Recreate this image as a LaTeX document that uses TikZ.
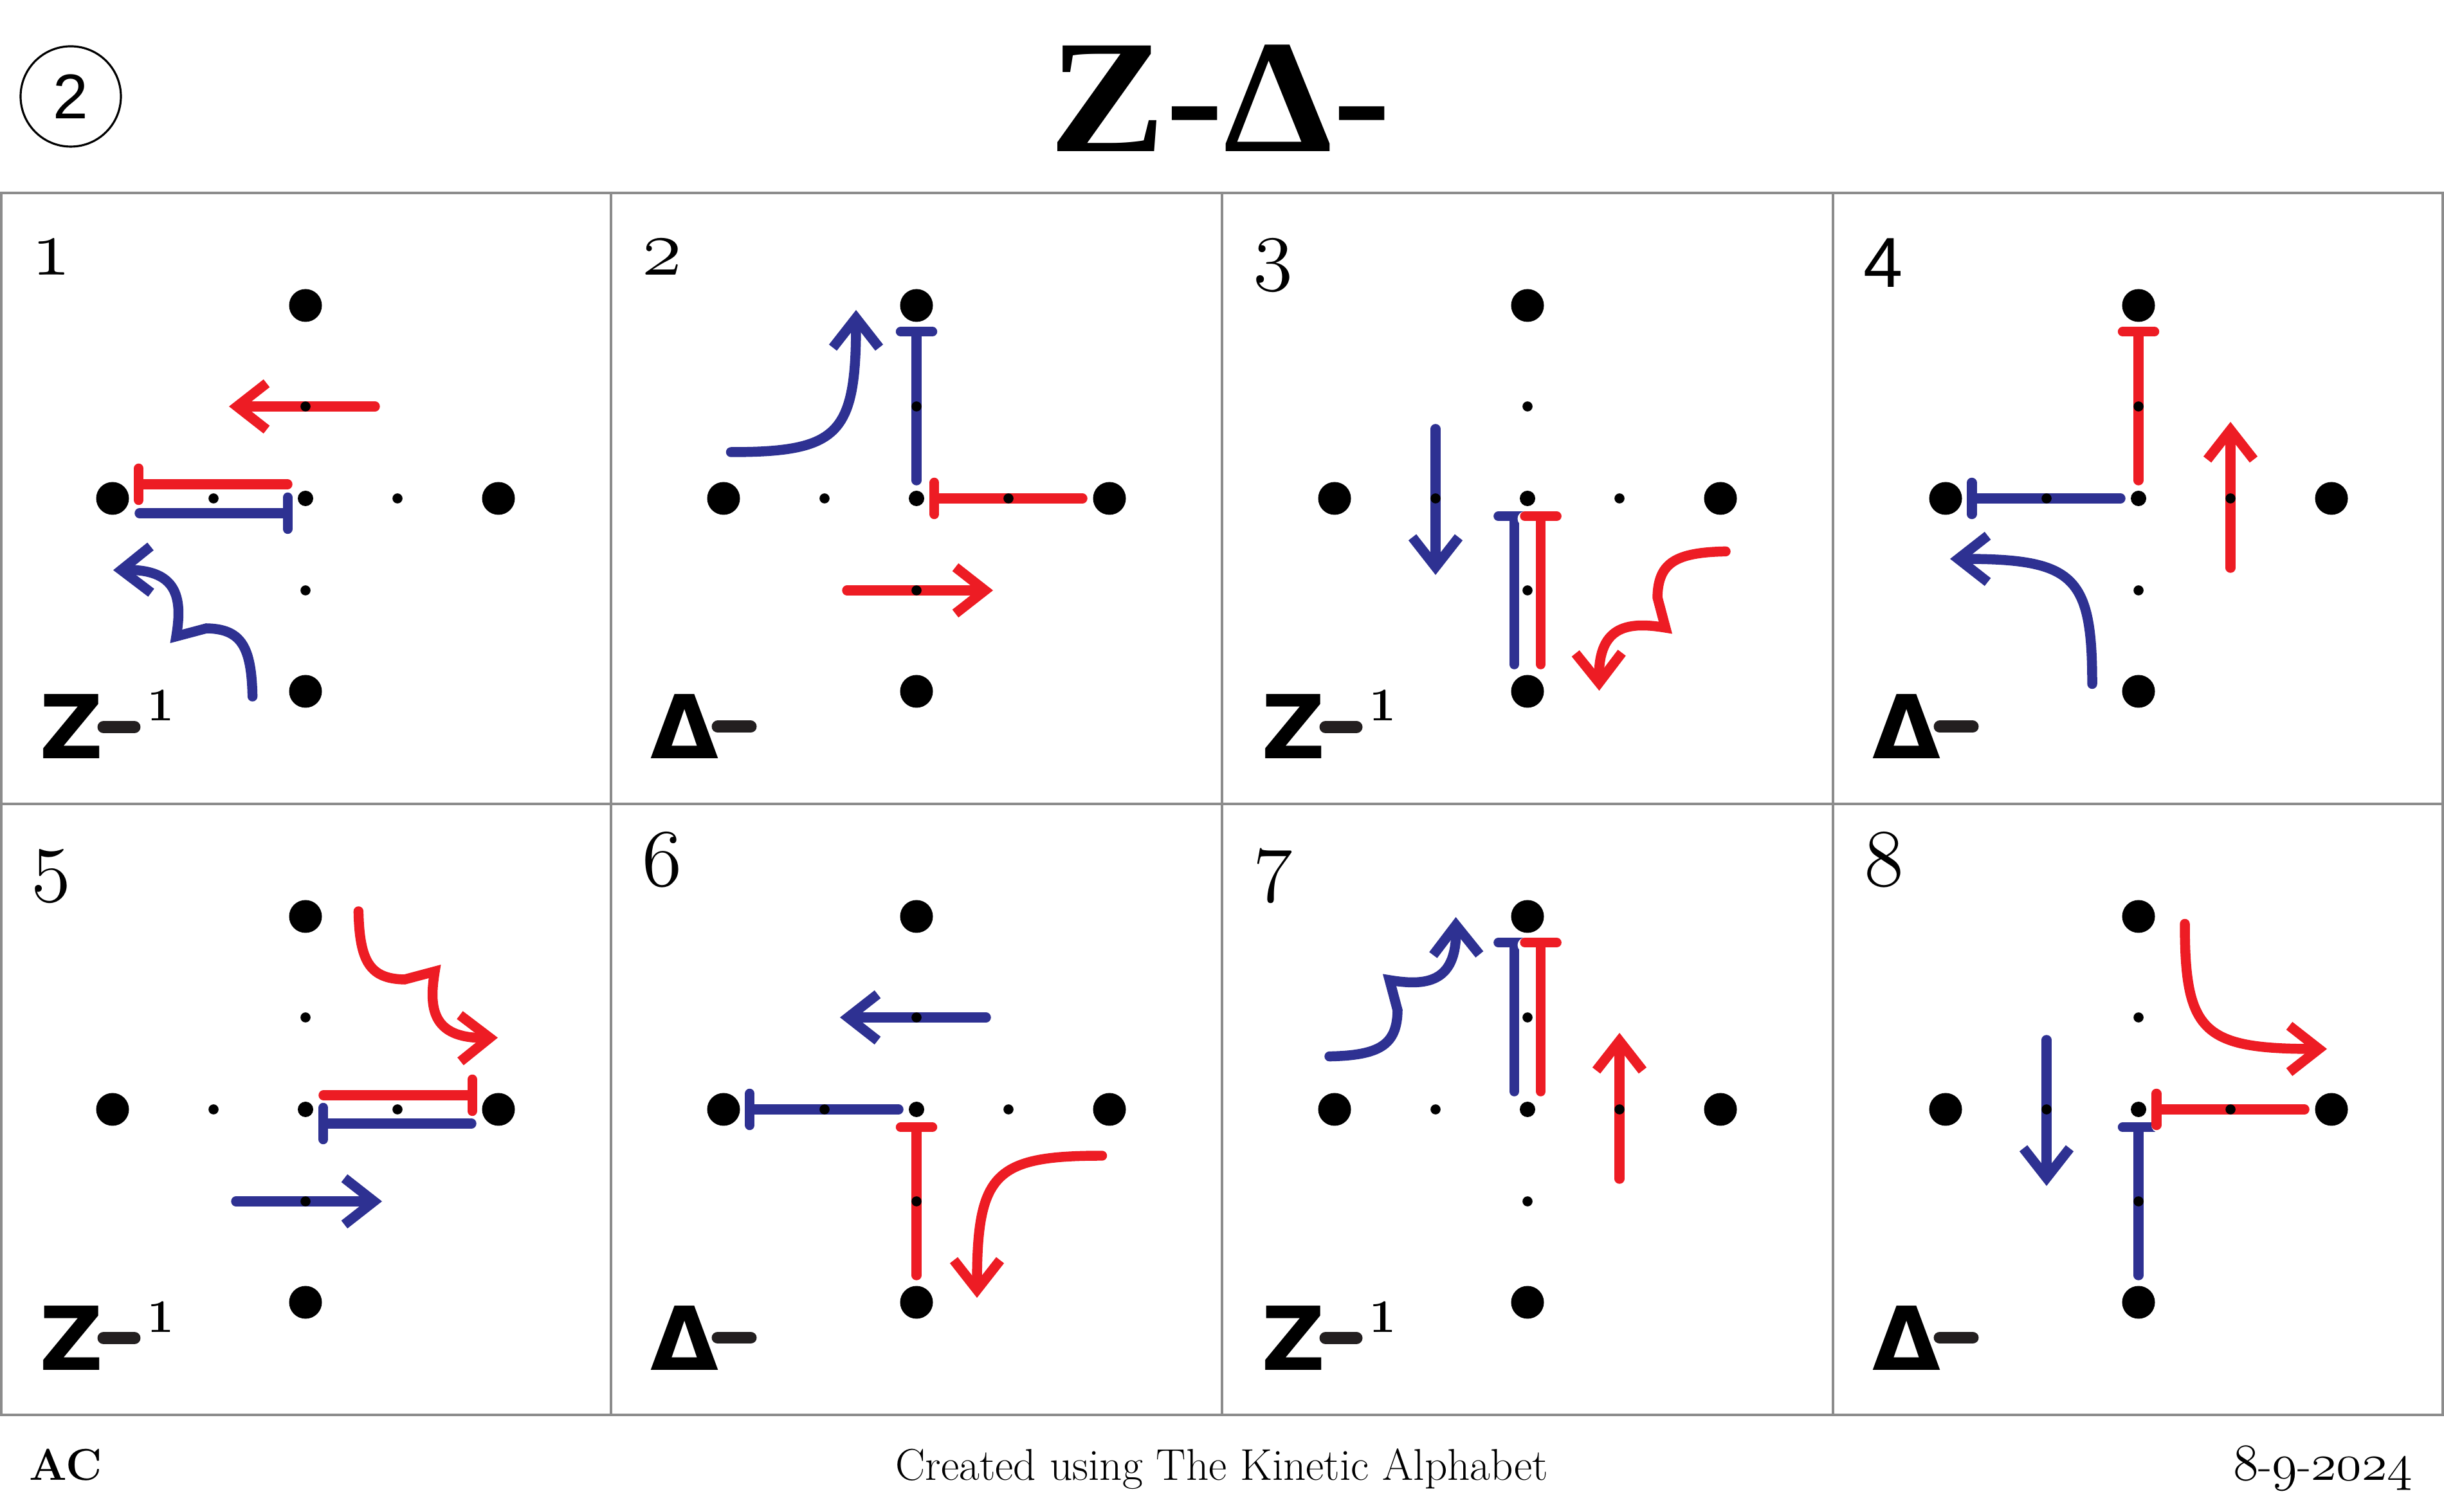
\RequirePackage{fix-cm}
\documentclass[tikz,border=0pt]{standalone}
\usepackage{fontspec}
\usetikzlibrary{arrows.meta}
\newfontfamily\glyphfont{DejaVu Sans}
\newfontfamily\headfont{Liberation Serif}
\newfontfamily\plainsans{Liberation Sans}
\definecolor{kared}{HTML}{ED1C24}
\definecolor{kablue}{HTML}{2E3192}
\definecolor{kaink}{HTML}{231F20}
% old style figures: {size}{digits}
\newcommand\osnum[2]{{\fontsize{#1}{#1}\usefont{OML}{cmm}{m}{it}#2}}

% movement marks, drawn round the centre of a panel
\newcommand\wiggle[1]{\draw[arr, #1, line join=miter]
  (-0.824,-3.08) .. controls (-0.84,-2.3) and (-1.0,-2.03) .. (-1.54,-2.02)
  -- (-2.01,-2.145) .. controls (-1.92,-1.6) and (-1.95,-1.1) .. (-2.99,-1.115);}
\newcommand\hook[1]{\draw[arr, #1]
  (-2.885,0.72) .. controls (-1.2,0.72) and (-0.94,1.0) .. (-0.94,2.93);}
\newcommand\kdots{%
  \fill (0,0) circle (0.12);
  \foreach \a in {0,90,180,270} {
    \fill (\a:3) circle (0.255);
    \fill (\a:1.43) circle (0.078);
  }}
\newcommand\zlbl[1]{%
  \node[glyph] (z#1) at (-4.14,-4.05) {Z};
  \draw[barsign] (-3.14,-3.555) -- (-2.66,-3.555);
  \node[supone] (e#1) at (-2.46,-3.46) {1};}
\newcommand\dlbl[1]{%
  \node[glyph] (d#1) at (-4.14,-4.05) {Δ};
  \draw[barsign] (-3.09,-3.55) -- (-2.58,-3.55);}

\begin{document}
\begin{tikzpicture}[
  mv/.style={line width=4.4pt, line cap=round},
  arr/.style={mv, -{Straight Barb[length=4.6mm, width=7.2mm]}},
  tee/.style={mv, -{Bar[width=4.9mm, round]}},
  halo/.style={preaction={draw=white, line width=6.6pt}},
  gridline/.style={draw=black!45, line width=1pt},
  glyph/.style={anchor=base west, inner sep=0pt,
                font=\glyphfont\bfseries\fontsize{39}{39}\selectfont},
  supone/.style={anchor=base west, inner sep=0pt,
                 font=\bfseries\fontsize{20.7}{21}\selectfont},
  barsign/.style={draw=kaink, line width=5.4pt, line cap=round},
  num/.style={anchor=base west, inner sep=0pt},
  foot/.style={inner sep=0pt, font=\fontsize{19.7}{20}\selectfont},
]
\useasboundingbox (0,0) rectangle (38,23.5);

% header
\node[draw, circle, line width=0.9pt, minimum size=15.6mm, inner sep=0pt,
  font=\plainsans\fontsize{28}{28}\selectfont] (badge) at (1.10,22.0) {2};
\node[anchor=base, inner sep=0pt, xscale=1.08,
  font=\headfont\bfseries\fontsize{71.4}{72}\selectfont] (title)
  at (18.97,21.14) {Z-Δ-};

% grid of panels
\draw[gridline] (0.02,1.5) rectangle (37.98,20.5);
\draw[gridline] (0.02,11) -- (37.98,11);
\foreach \x in {9.5,19,28.5}
  \draw[gridline] (\x,1.5) -- (\x,20.5);

% panel 1
\begin{scope}[shift={(4.75,15.75)}]
  \wiggle{kablue}
  \draw[tee, kablue] (-2.58,-0.23) -- (-0.2,-0.23);
  \draw[tee, kared, halo] (-0.28,0.22) -- (-2.67,0.22);
  \draw[arr, kared] (1.08,1.43) -- (-1.19,1.43);
  \kdots
  \node[num] (n1) at (-4.27,3.47) {\osnum{36}{1}};
  \zlbl{1}
\end{scope}

% panel 2
\begin{scope}[shift={(14.25,15.75)}]
  \hook{kablue}
  \draw[tee, kablue] (0,0.28) -- (0,2.67);
  \draw[tee, kared, halo] (2.58,0) -- (0.2,0);
  \draw[arr, kared] (-1.08,-1.43) -- (1.19,-1.43);
  \kdots
  \node[num] (n2) at (-4.27,3.47) {\osnum{36}{2}};
  \dlbl{2}
\end{scope}

% panel 3
\begin{scope}[shift={(23.75,15.75)}]
  \draw[arr, kablue] (-1.43,1.08) -- (-1.43,-1.19);
  \draw[tee, kablue] (-0.206,-2.58) -- (-0.206,-0.2);
  \draw[tee, kared, halo] (0.206,-2.58) -- (0.206,-0.2);
  \begin{scope}[rotate=90]
    \wiggle{kared}
  \end{scope}
  \kdots
  \node[num] (n3) at (-4.27,3.47) {\osnum{36}{3}};
  \zlbl{3}
\end{scope}

% panel 4
\begin{scope}[shift={(33.25,15.75)}]
  \begin{scope}[rotate=90]
    \hook{kablue}
  \end{scope}
  \draw[tee, kablue] (-0.28,0) -- (-2.67,0);
  \draw[tee, kared, halo] (0,0.28) -- (0,2.67);
  \draw[arr, kared] (1.43,-1.08) -- (1.43,1.19);
  \kdots
  \node[num, font=\plainsans\fontsize{31.3}{32}\selectfont] (n4)
    at (-4.28,3.28) {4};
  \dlbl{4}
\end{scope}

% panel 5
\begin{scope}[shift={(4.75,6.25)}]
  \draw[arr, kablue] (-1.08,-1.43) -- (1.19,-1.43);
  \draw[tee, kablue] (2.58,-0.22) -- (0.2,-0.22);
  \draw[tee, kared, halo] (0.28,0.22) -- (2.67,0.22);
  \begin{scope}[rotate=180]
    \wiggle{kared}
  \end{scope}
  \kdots
  \node[num] (n5) at (-4.27,3.47) {\osnum{36}{5}};
  \zlbl{5}
\end{scope}

% panel 6
\begin{scope}[shift={(14.25,6.25)}]
  \draw[arr, kablue] (1.08,1.43) -- (-1.19,1.43);
  \draw[tee, kablue] (-0.28,0) -- (-2.67,0);
  \draw[tee, kared, halo] (0,-2.58) -- (0,-0.2);
  \begin{scope}[rotate=180]
    \hook{kared}
  \end{scope}
  \kdots
  \node[num] (n6) at (-4.27,3.47) {\osnum{36}{6}};
  \dlbl{6}
\end{scope}

% panel 7
\begin{scope}[shift={(23.75,6.25)}]
  \begin{scope}[rotate=-90]
    \wiggle{kablue}
  \end{scope}
  \draw[tee, kablue] (-0.206,0.28) -- (-0.206,2.67);
  \draw[tee, kared, halo] (0.206,0.28) -- (0.206,2.67);
  \draw[arr, kared] (1.43,-1.08) -- (1.43,1.19);
  \kdots
  \node[num] (n7) at (-4.27,3.47) {\osnum{36}{7}};
  \zlbl{7}
\end{scope}

% panel 8
\begin{scope}[shift={(33.25,6.25)}]
  \draw[arr, kablue] (-1.43,1.08) -- (-1.43,-1.19);
  \draw[tee, kablue] (0,-2.58) -- (0,-0.2);
  \draw[tee, kared, halo] (2.58,0) -- (0.2,0);
  \begin{scope}[rotate=-90]
    \hook{kared}
  \end{scope}
  \kdots
  \node[num] (n8) at (-4.27,3.47) {\osnum{36}{8}};
  \dlbl{8}
\end{scope}

% footer
\node[foot, anchor=base west] (author) at (0.45,0.49) {\bfseries AC};
\node[foot, anchor=base] (credit) at (19,0.49)
  {Created using The Kinetic Alphabet};
\node[foot, anchor=base east] (date) at (37.52,0.49)
  {\osnum{23}{8}-\osnum{23}{9}-\osnum{23}{2024}};
\end{tikzpicture}
\end{document}
